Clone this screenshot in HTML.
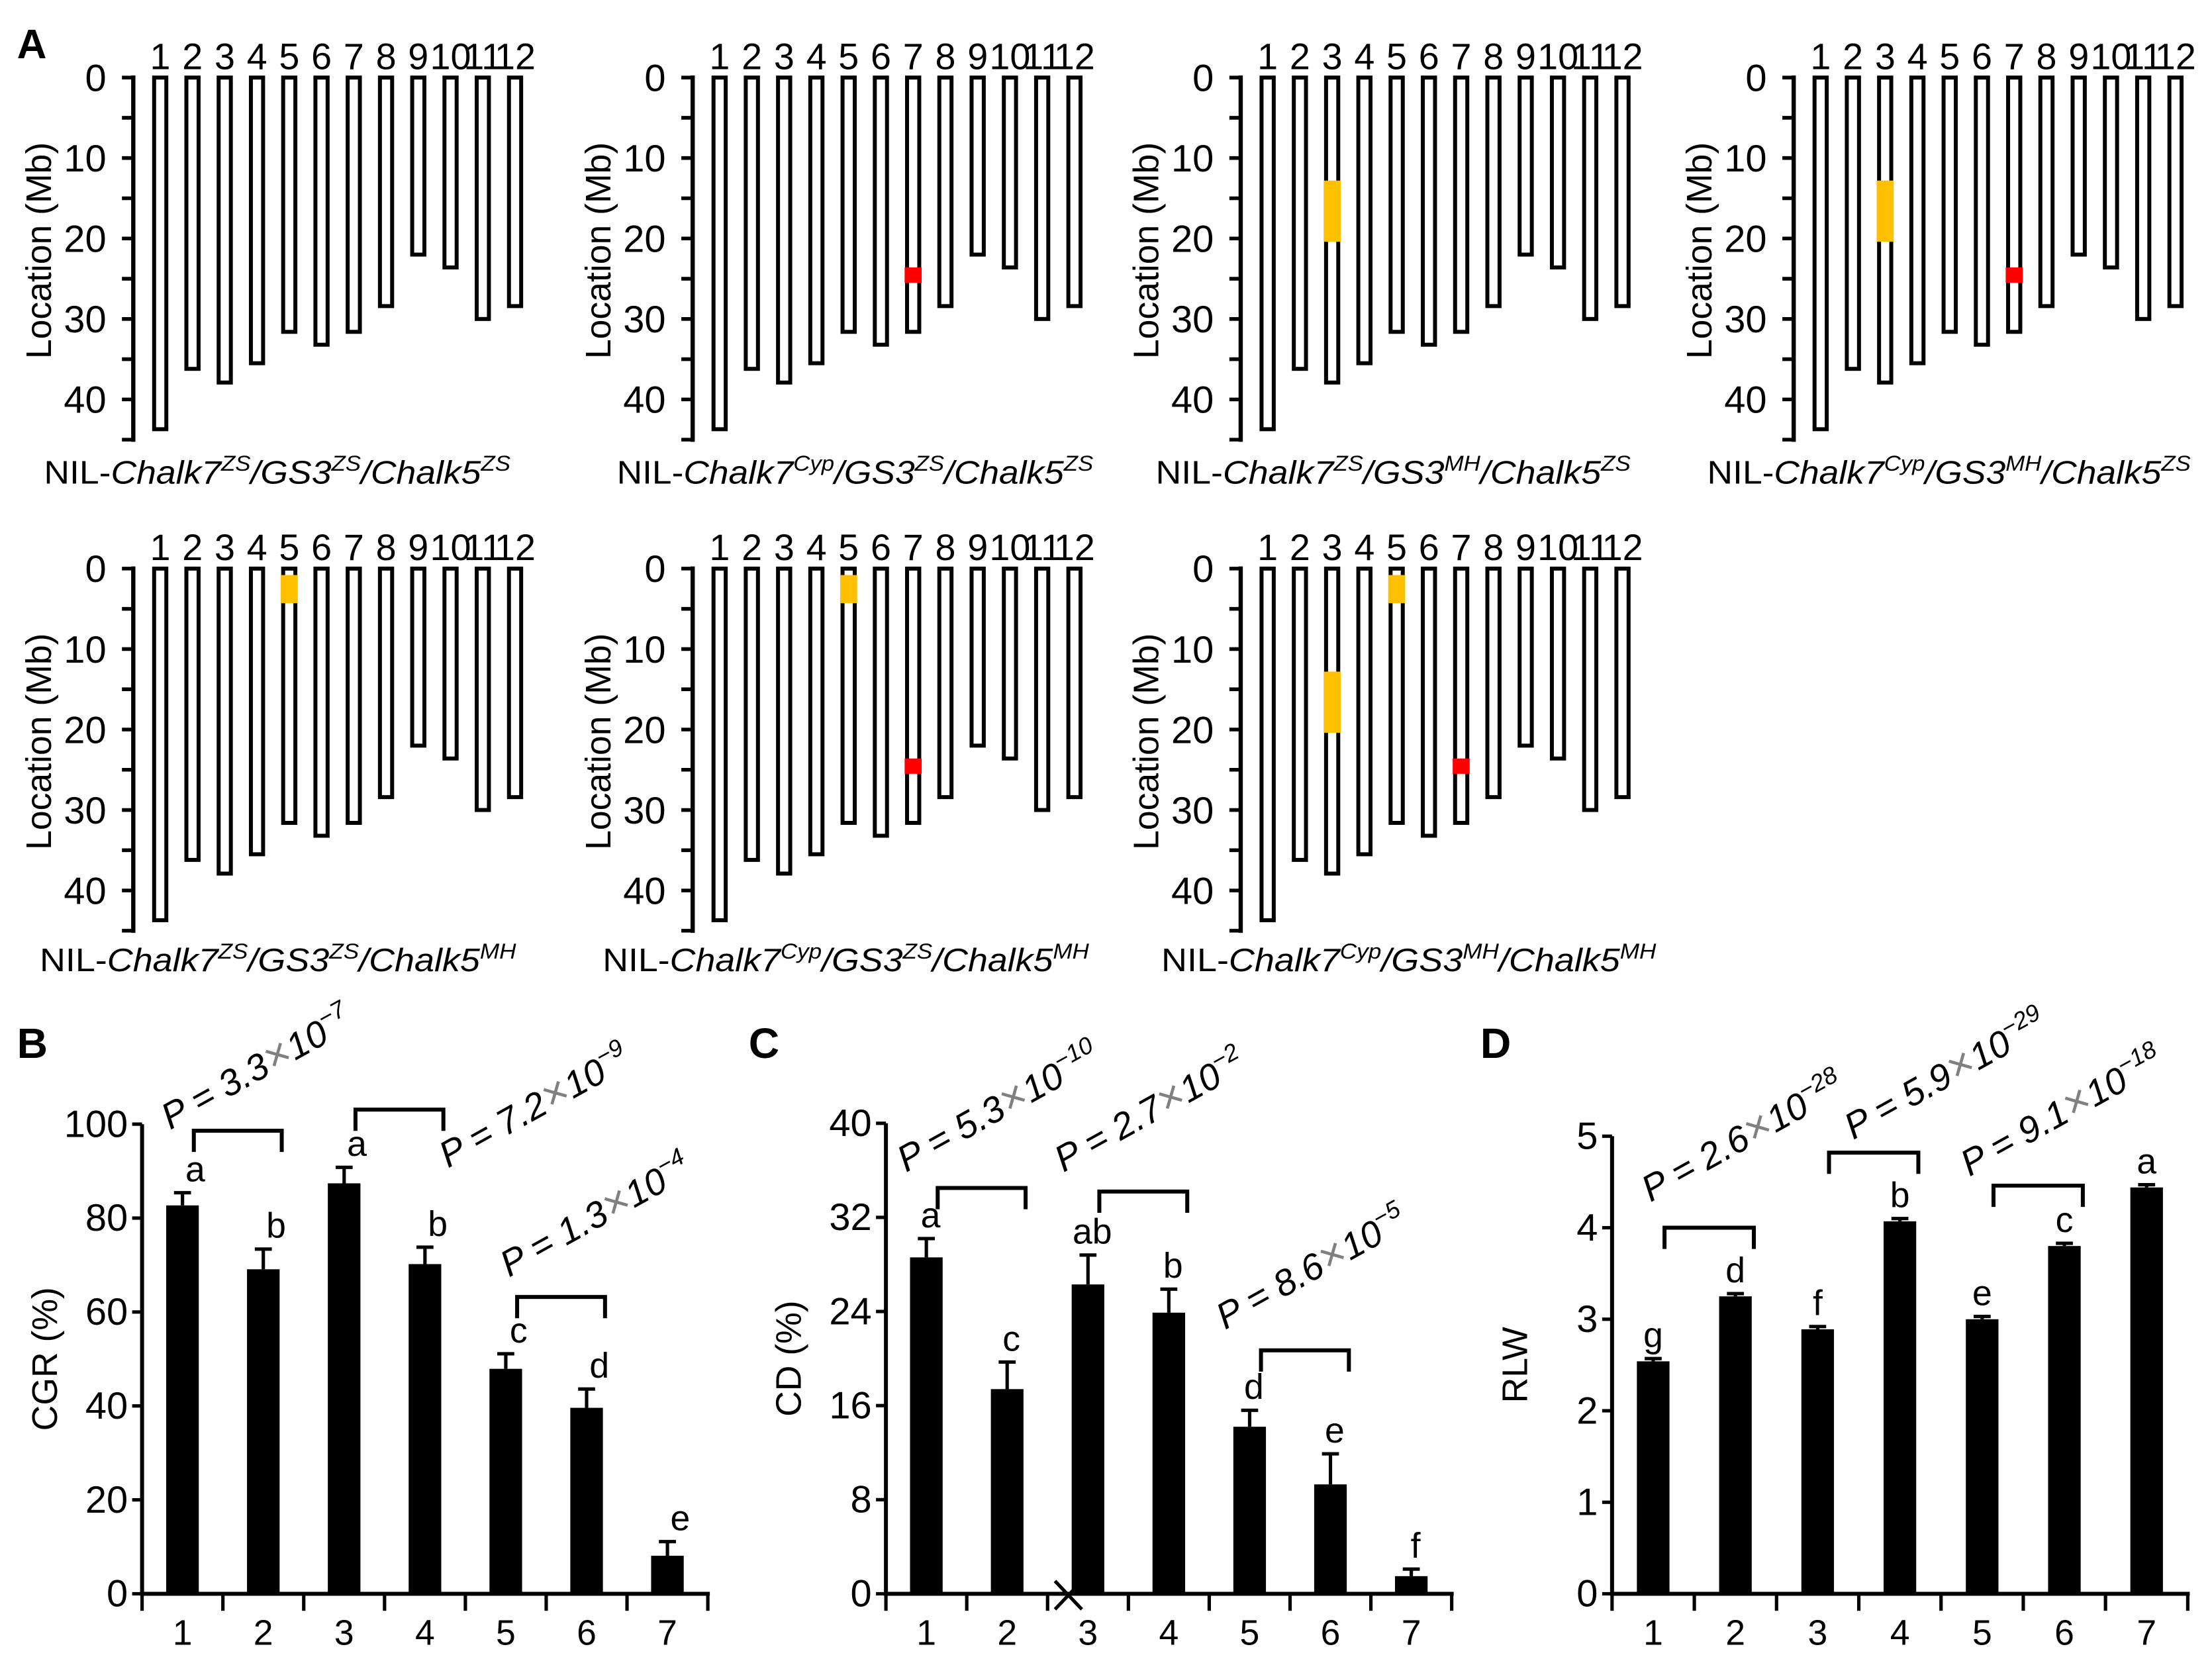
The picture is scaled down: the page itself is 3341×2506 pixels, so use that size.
<!DOCTYPE html>
<html><head><meta charset="utf-8"><style>
html,body{margin:0;padding:0;background:#fff;}
svg{display:block;}
text{font-family:"Liberation Sans",Arial,sans-serif;fill:#000;}
</style></head><body>
<svg id="fig" xmlns="http://www.w3.org/2000/svg" width="3341" height="2506" viewBox="0 0 1560 1170" preserveAspectRatio="none"></svg>
<script>
// ---------- data ----------
const chrNames = ["1","2","3","4","5","6","7","8","9","10","11","12"];
const chrLengths = [43.7,36.2,37.9,35.5,31.6,33.2,31.6,28.4,22.0,23.6,30.0,28.4];
const mbTicks = [0,10,20,30,40];
const panelChalk7 = [false,true,false,true,false,true,true];
const panelGS3 = [false,false,true,true,false,false,true];
const panelChalk5 = [false,false,false,false,true,true,true];
const chalk7Seg = [23.6,25.5];
const gs3Seg = [12.8,20.4];
const chalk5Seg = [0.8,4.3];
const capA7 = ["ZS","Cyp","ZS","Cyp","ZS","Cyp","Cyp"];
const capG3 = ["ZS","ZS","MH","MH","ZS","ZS","MH"];
const capC5 = ["ZS","ZS","ZS","ZS","MH","MH","MH"];

const categories = ["1","2","3","4","5","6","7"];
const cgrVals = [82.7,69.1,87.4,70.2,47.9,39.6,8.1];
const cgrErr  = [2.7,4.3,3.4,3.6,3.2,4.0,3.0];
const cgrLetters = ["a","b","a","b","c","d","e"];
const cgrTicks = [0,20,40,60,80,100];
const cdVals = [28.6,17.4,26.3,23.9,14.2,9.3,1.5];
const cdErr  = [1.6,2.3,2.5,2.0,1.4,2.6,0.6];
const cdLetters = ["a","c","ab","b","d","e","f"];
const cdTicks = [0,8,16,24,32,40];
const rlwVals = [2.54,3.25,2.89,4.07,3.00,3.80,4.44];
const rlwErr  = [0.03,0.03,0.03,0.03,0.03,0.03,0.03];
const rlwLetters = ["g","d","f","b","e","c","a"];
const rlwTicks = [0,1,2,3,4,5];
const pB = [["3.3","−7"],["7.2","−9"],["1.3","−4"]];
const pC = [["5.3","−10"],["2.7","−2"],["8.6","−5"]];
const pD = [["2.6","−28"],["5.9","−29"],["9.1","−18"]];

// ---------- helpers ----------
const NS = "http://www.w3.org/2000/svg";
const svg = document.getElementById("fig");
function mk(tag, attrs, parent){ const e=document.createElementNS(NS,tag); for(const k in attrs) e.setAttribute(k,attrs[k]); (parent||svg).appendChild(e); return e; }
function txt(str, attrs, parent){ const t=mk("text",attrs,parent); t.textContent=str; return t; }

// ---------- Panel A ----------
const axXs = [94,488.5,875,1265,94,488.5,875];
const rowY0 = [54.7,54.7,54.7,54.7,401,401,401];
const capX = [31,435,815,1204,28,425,819];
const capW = [329,336,335,341,336,343,349];
const MBPX = 5.675;

const la = txt("A",{x:12,y:41,"font-size":29,"font-weight":"bold"});



for(let p=0;p<7;p++){
  const g = mk("g",{});
  
  
  const ax = axXs[p], y0 = rowY0[p];
  const ym = v => y0 + v*MBPX;
  const axis = mk("line",{x1:ax,y1:ym(0)-1.5,x2:ax,y2:ym(45)+1.5,stroke:"#000","stroke-width":3},g);
  
  
  for(let v=0; v<=45; v+=5){
    const tk = mk("line",{x1:ax-8,y1:ym(v),x2:ax,y2:ym(v),stroke:"#000","stroke-width":2.6},g);
    
    
  }
  mbTicks.forEach(v=>{
    const t = txt(String(v),{x:ax-19,y:ym(v)+9.5,"font-size":27,"text-anchor":"end"},g);
    
    
  });
  const yt = txt("Location (Mb)",{x:0,y:0,"font-size":25,"text-anchor":"middle",transform:`translate(${ax-58},${ym(21.5)}) rotate(-90)`},g);
  
  
  chrLengths.forEach((L,i)=>{
    const cx = ax + 19 + i*22.75;
    const r = mk("rect",{x:cx-4.3,y:ym(0),width:8.6,height:L*MBPX,fill:"#fff",stroke:"#000","stroke-width":2.8},g);
    
    
    const n = txt(chrNames[i],{x:cx,y:y0-6,"font-size":26,"text-anchor":"middle"},g);
    
    
  });
  function seg(ci, s, color, name){
    const cx = ax + 19 + ci*22.75;
    const r = mk("rect",{x:cx-6,y:ym(s[0]),width:12,height:(s[1]-s[0])*MBPX,fill:color},g);
    
    
  }
  if(panelGS3[p]) seg(2, gs3Seg, "#ffc000", "gs3-segment");
  if(panelChalk5[p]) seg(4, chalk5Seg, "#ffc000", "chalk5-segment");
  if(panelChalk7[p]) seg(6, chalk7Seg, "#ff0000", "chalk7-segment");
  const capY = p<4 ? 341 : 685;
  const cap = mk("text",{x:capX[p],y:capY,"font-size":23,textLength:capW[p],lengthAdjust:"spacingAndGlyphs"},g);
  
  
  const parts = [["NIL-",false,false],["Chalk7",true,false],[capA7[p],true,true],["/GS3",true,false],[capG3[p],true,true],["/Chalk5",true,false],[capC5[p],true,true]];
  parts.forEach(([s,it,sup],j)=>{
    const ts = mk("tspan",{},cap);
    if(it) ts.setAttribute("font-style","italic");
    if(sup){ ts.setAttribute("font-size",15); ts.setAttribute("dy",-9); }
    else if(j>1){ ts.setAttribute("dy",9); }
    ts.textContent=s;
  });
}

// ---------- Bar charts ----------
function barChart(o){
  const g = mk("g",{});
  
  
  const ys = v => o.y0 - (v/o.max)*(o.y0-o.yTop);
  const cx = i => o.ax + o.slot*(i+0.5);
  const xEnd = o.ax + o.slot*categories.length;
  const lbl = txt(o.letter,{x:o.lx,y:746,"font-size":30,"font-weight":"bold"},g);
  
  
  const yax = mk("line",{x1:o.ax,y1:ys(o.max),x2:o.ax,y2:o.y0+1.5,stroke:"#000","stroke-width":2.8},g);
  
  
  const xax = mk("line",{x1:o.ax-1.4,y1:o.y0,x2:xEnd+1.4,y2:o.y0,stroke:"#000","stroke-width":2.8},g);
  
  
  o.ticks.forEach(v=>{
    const tk = mk("line",{x1:o.ax-7,y1:ys(v),x2:o.ax,y2:ys(v),stroke:"#000","stroke-width":2.4},g);
    
    
    const tl = txt(String(v),{x:o.ax-10,y:ys(v)+9,"font-size":27,"text-anchor":"end"},g);
    
    
  });
  for(let i=0;i<=categories.length;i++){
    const tk = mk("line",{x1:o.ax+o.slot*i,y1:o.y0,x2:o.ax+o.slot*i,y2:o.y0+12,stroke:"#000","stroke-width":2.4},g);
    
    
  }
  const yt = txt(o.title,{x:0,y:0,"font-size":25,"text-anchor":"middle",transform:`translate(${o.ax-60},${(o.y0+ys(o.max))/2}) rotate(-90)`},g);
  
  
  categories.forEach((c,i)=>{
    const x = cx(i);
    const v = o.vals[i], e = o.errs[i];
    const b = mk("rect",{x:x-11.5,y:ys(v),width:23,height:o.y0-ys(v),fill:"#000"},g);
    
    
    const eb = mk("path",{d:`M${x},${ys(v)} V${ys(v+e)} M${x-6},${ys(v+e)} H${x+6}`,stroke:"#000","stroke-width":2.4,fill:"none"},g);
    
    
    const lt = txt(o.letters[i],{x:x+o.lOff,y:ys(v+e)-8,"font-size":25,"text-anchor":"middle"},g);
    
    
    const xl = txt(c,{x:x,y:o.y0+36,"font-size":25,"text-anchor":"middle"},g);
    
    
  });
  o.brackets.forEach((bk,k)=>{
    const i = bk[0];
    const x1 = cx(i)+8, x2 = cx(i+1)+13;
    const by = ys(bk[1]);
    const br = mk("path",{d:`M${x1},${by+15} V${by} H${x2} V${by+15}`,stroke:"#000","stroke-width":2.8,fill:"none"},g);
    
    
    const pt = mk("text",{x:0,y:0,"font-size":26,"font-style":"italic",transform:`translate(${o.pPos[k][0]},${o.pPos[k][1]}) rotate(-29)`},g);
    
    
    const a = mk("tspan",{},pt); a.textContent = "P = "+o.pvals[k][0];
    const m = mk("tspan",{fill:"#808080","font-style":"normal","font-size":30,"dx":1},pt); m.textContent = "×";
    const t10 = mk("tspan",{},pt); t10.textContent = "10";
    const ex = mk("tspan",{"font-size":17,dy:-11},pt); ex.textContent = o.pvals[k][1];
  });
  return g;
}

barChart({name:"cgr-chart",letter:"B",lx:12,ax:100.2,slot:57,y0:1124,yTop:792.8,max:100,ticks:cgrTicks,lOff:9,
  vals:cgrVals,errs:cgrErr,letters:cgrLetters,title:"CGR (%)",
  brackets:[[0,98.6],[2,103.1],[4,63.2]],pvals:pB,
  pPos:[[120,797],[316,824],[359,901]]});
const cch = barChart({name:"cd-chart",letter:"C",lx:528,ax:624.8,slot:57,y0:1124,yTop:792.2,max:40,ticks:cdTicks,lOff:3,
  vals:cdVals,errs:cdErr,letters:cdLetters,title:"CD (%)",
  brackets:[[0,34.5],[2,34.2],[4,20.7]],pvals:pC,
  pPos:[[639,827],[750,827],[864,938]]});
const xm = mk("path",{d:"M744,1115 L763,1135 M744,1135 L763,1115",stroke:"#000","stroke-width":2.4,fill:"none"},cch);


barChart({name:"rlw-chart",letter:"D",lx:1044,ax:1136.9,slot:58,y0:1124,yTop:801.3,max:5,ticks:rlwTicks,lOff:0,
  vals:rlwVals,errs:rlwErr,letters:rlwLetters,title:"RLW",
  brackets:[[0,4.0],[2,4.82],[4,4.46]],pvals:pD,
  pPos:[[1164,848],[1307,804],[1389,830]]});
</script>
</body></html>
